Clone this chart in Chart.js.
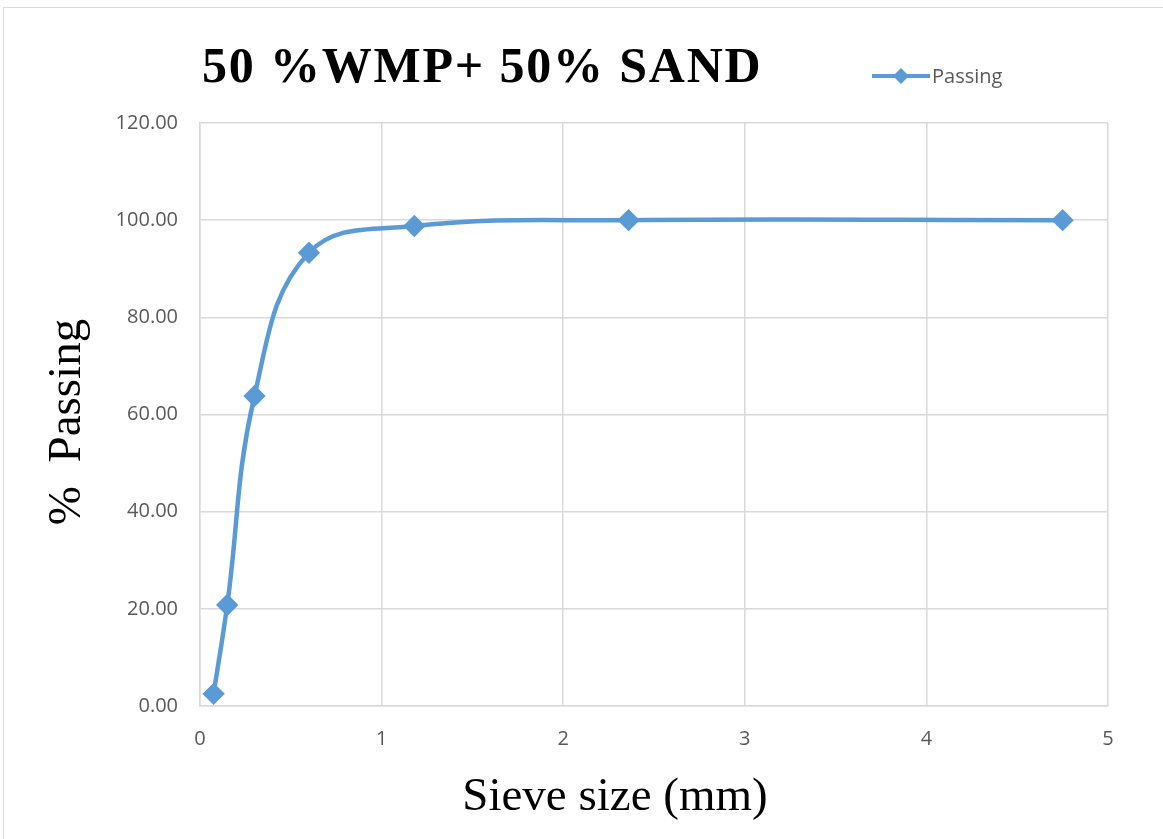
<!DOCTYPE html>
<html>
<head>
<meta charset="utf-8">
<script src="https://cdn.jsdelivr.net/npm/chart.js@4.4.0/dist/chart.umd.min.js"></script>
<style>
  html, body { margin: 0; padding: 0; background: #fff; }
  #wrap { width: 1163px; height: 839px; }
</style>
</head>
<body>
<div id="wrap"><canvas id="sieve-chart" width="1163" height="839"></canvas></div>
<script>
// sieve sizes (mm) and % passing
const sieveSizes = [0.075, 0.15, 0.3, 0.6, 1.18, 2.36, 4.75];
const passing = [2.5, 20.8, 63.8, 93.3, 98.8, 100, 100];
const xTicks = [0, 1, 2, 3, 4, 5];
const yTicks = [0, 20, 40, 60, 80, 100, 120];

const chartTitle = '50 %WMP+ 50% SAND';
const seriesName = 'Passing';
const xTitle = 'Sieve size (mm)';
const yTitle = '%  Passing';

const blue = '#5b9bd5';

const points = sieveSizes.map((s, i) => ({ x: s, y: passing[i] }));

// frame, title, legend and axis titles drawn like the excel sheet
const decorPlugin = {
    id: 'decor',
    beforeDraw(chart) {
        const c = chart.ctx;
        c.save();
        c.fillStyle = '#fff';
        c.fillRect(0, 0, chart.width, chart.height);
        c.strokeStyle = '#d9d9d9';
        c.lineWidth = 1;
        c.strokeRect(3.5, 7.5, chart.width + 20, chart.height + 20);
        c.restore();
    },
    afterDraw(chart) {
        const c = chart.ctx;
        const area = chart.chartArea;
        c.save();
        // title
        c.fillStyle = '#000';
        c.font = 'bold 50px "Liberation Serif"';
        c.letterSpacing = '1.8px';
        c.textAlign = 'left';
        c.textBaseline = 'middle';
        c.fillText(chartTitle, area.left + 2, 69);
        c.letterSpacing = '0px';

        // legend
        c.strokeStyle = blue;
        c.lineWidth = 4;
        c.beginPath();
        c.moveTo(872, 76);
        c.lineTo(930, 76);
        c.stroke();
        c.fillStyle = blue;
        c.beginPath();
        c.moveTo(901, 68);
        c.lineTo(909, 76);
        c.lineTo(901, 84);
        c.lineTo(893, 76);
        c.closePath();
        c.fill();
        c.fillStyle = '#595959';
        c.font = '20px "Open Sans"';
        c.fillText(seriesName, 932, 77);

        // axis titles
        c.fillStyle = '#000';
        c.font = '47px "Liberation Serif"';
        c.textAlign = 'center';
        c.fillText(xTitle, 615, 798);
        c.translate(68, 422);
        c.rotate(-Math.PI / 2);
        c.fillText(yTitle, 0, 0);
        c.restore();
    }
};

const ctx = document.getElementById('sieve-chart').getContext('2d');
const sieveChart = new Chart(ctx, {
    type: 'scatter',
    data: {
        datasets: [{
            label: seriesName,
            data: points,
            showLine: true,
            borderColor: blue,
            backgroundColor: blue,
            borderWidth: 4.5,
            tension: 0.4,
            pointStyle: 'rectRot',
            pointRadius: 8,
            pointHoverRadius: 8
        }]
    },
    options: {
        responsive: false,
        animation: false,
        layout: {
            padding: { top: 123, right: 55, left: 0, bottom: 0 }
        },
        plugins: {
            legend: { display: false },
            title: { display: false },
            tooltip: { enabled: false }
        },
        scales: {
            x: {
                type: 'linear',
                min: 0,
                max: 5,
                afterBuildTicks(scale) {
                    scale.ticks = xTicks.map(v => ({ value: v }));
                },
                afterFit(scale) { scale.height = 133; },
                grid: { color: '#d9d9d9', lineWidth: 1.5, drawTicks: false },
                border: { color: '#d9d9d9', width: 1.5 },
                ticks: {
                    padding: 21,
                    color: '#595959',
                    font: { family: 'Open Sans', size: 20 },
                    maxRotation: 0
                }
            },
            y: {
                min: 0,
                max: 120,
                afterBuildTicks(scale) {
                    scale.ticks = yTicks.map(v => ({ value: v }));
                },
                afterFit(scale) { scale.width = 200; },
                grid: { color: '#d9d9d9', lineWidth: 1.5, drawTicks: false },
                border: { color: '#d9d9d9', width: 1.5 },
                ticks: {
                    padding: 22,
                    color: '#595959',
                    font: { family: 'Open Sans', size: 20 },
                    callback: v => Number(v).toFixed(2)
                }
            }
        }
    },
    plugins: [decorPlugin]
});
</script>
</body>
</html>
